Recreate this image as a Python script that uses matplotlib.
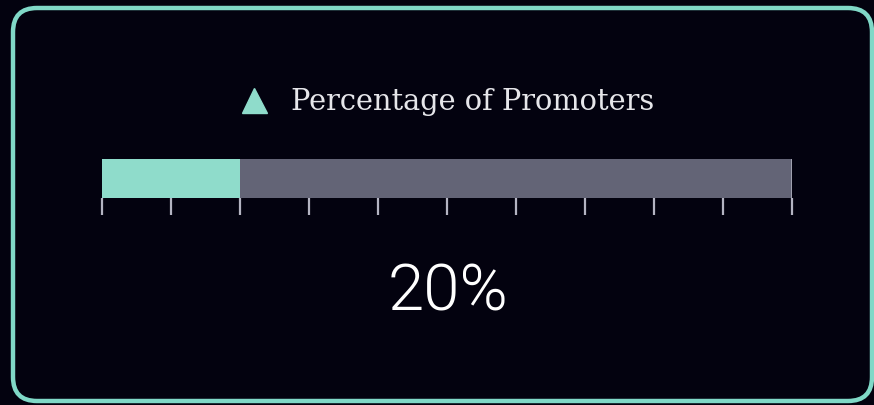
import matplotlib.pyplot as plt
from matplotlib.patches import FancyBboxPatch

# gauge data
label = 'Percentage of Promoters'
promoters = 20
total = 100
tick_values = list(range(0, 101, 10))

bg = '#03020f'
teal = '#8fdccb'
grey = '#636476'
tick_col = '#b4b4c2'

W, H = 874, 406
fig = plt.figure(figsize=(W / 100, H / 100), dpi=100, facecolor=bg)

# full-figure axes in pixel units for the frame, legend and big number
bg_ax = fig.add_axes([0, 0, 1, 1])
bg_ax.set_xlim(0, W)
bg_ax.set_ylim(H, 0)
bg_ax.axis('off')
bg_ax.set_facecolor(bg)

frame = FancyBboxPatch((13, 9), 859, 393,
                       boxstyle='round,pad=0,rounding_size=24',
                       fc='none', ec='#80d8c7', lw=3.2)
bg_ax.add_patch(frame)

bg_ax.plot([254], [101], marker='^', ms=18, color=teal, mec=teal)
bg_ax.text(291, 102, label, color='#e6e6ea', fontsize=20.8,
           family='DejaVu Serif', va='center', ha='left')
bg_ax.text(448, 293, f'{promoters}%', color='white', fontsize=47,
           family='Roboto', fontweight=300, va='center', ha='center')

# the bar itself
x0, x1 = 102, 792
y0, y1 = 160, 199
ax = fig.add_axes([x0 / W, 1 - y1 / H, (x1 - x0) / W, (y1 - y0) / H])
ax.barh([0], [total], height=1, left=0, color=grey)
ax.barh([0], [promoters], height=1, left=0, color=teal)
ax.set_xlim(0, total)
ax.set_ylim(-0.5, 0.5)
ax.set_facecolor('none')
for s in ax.spines.values():
    s.set_visible(False)
ax.axvline(total, color=tick_col, lw=1.8)
ax.set_yticks([])
ax.set_xticks(tick_values)
ax.set_xticklabels([])
ax.tick_params(axis='x', direction='out', length=12.5, width=1.6,
               color=tick_col, pad=0)

fig.savefig('out.png', dpi=100, facecolor=bg)
